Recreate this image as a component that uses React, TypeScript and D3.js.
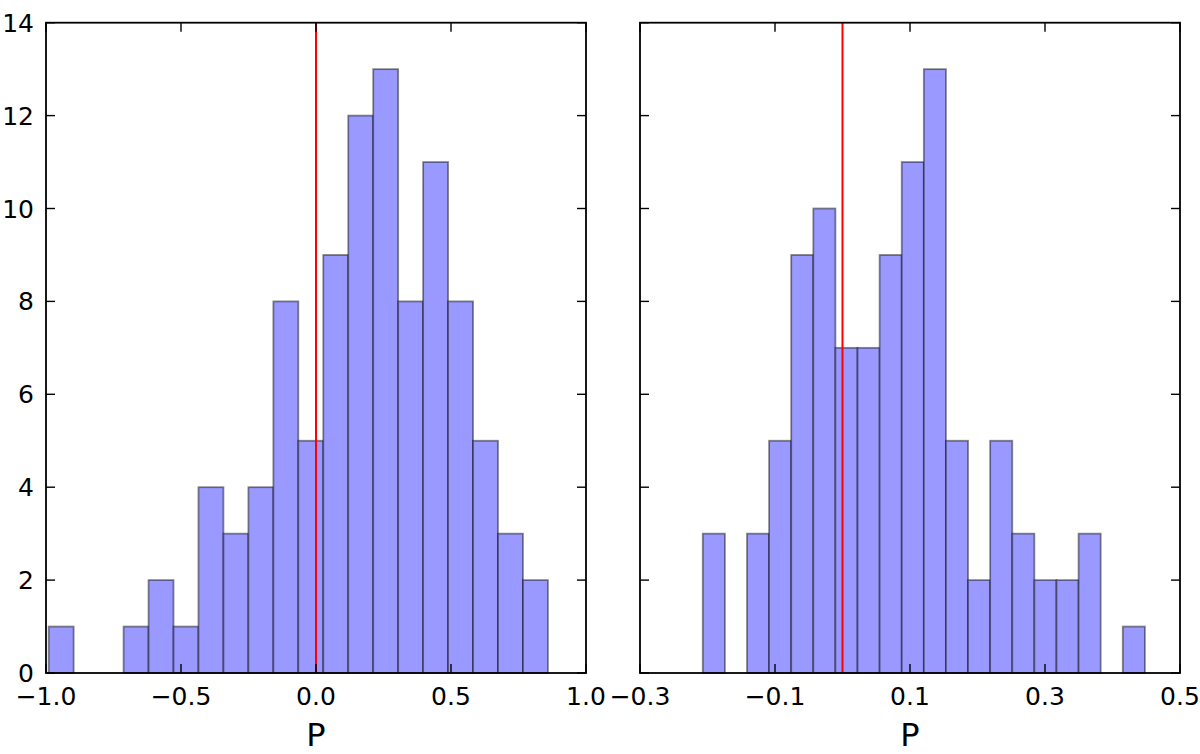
import * as d3 from "d3";
import { useEffect, useRef } from "react";

// histogram counts, 20 equal bins per panel
const leftCounts = [1, 0, 0, 1, 2, 1, 4, 3, 4, 8, 5, 9, 12, 13, 8, 11, 8, 5, 3, 2];
const leftBinRange: [number, number] = [-0.99, 0.859];
const leftXTicks = [-1.0, -0.5, 0.0, 0.5, 1.0];
const leftXDomain: [number, number] = [-1, 1];

const rightCounts = [3, 0, 3, 5, 9, 10, 7, 7, 9, 11, 13, 5, 2, 5, 3, 2, 2, 3, 0, 1];
const rightBinRange: [number, number] = [-0.207, 0.448];
const rightXTicks = [-0.3, -0.1, 0.1, 0.3, 0.5];
const rightXDomain: [number, number] = [-0.3, 0.5];

const yTicks = [0, 2, 4, 6, 8, 10, 12, 14];
const yDomain: [number, number] = [0, 14];
const refLine = 0; // red vertical marker
const xLabel = "P";

const W = 1200;
const H = 754;
const top = 22.7;
const bottom = 673;
const font = "'DejaVu Sans', sans-serif";

type Panel = {
  counts: number[];
  binRange: [number, number];
  xTicks: number[];
  xDomain: [number, number];
  x0: number;
  x1: number;
  yLabels: boolean;
};

const panels: Panel[] = [
  { counts: leftCounts, binRange: leftBinRange, xTicks: leftXTicks, xDomain: leftXDomain, x0: 46, x1: 586, yLabels: true },
  { counts: rightCounts, binRange: rightBinRange, xTicks: rightXTicks, xDomain: rightXDomain, x0: 640, x1: 1180, yLabels: false },
];

const fmt = (v: number) => d3.format(".1f")(v).replace("-", "\u2212");

export default function App() {
  const svgRef = useRef<SVGSVGElement>(null);

  useEffect(() => {
    document.body.style.margin = "0";
    if (!svgRef.current) return;
    const svg = d3.select(svgRef.current);
    svg.selectAll("*").remove();

    const y = d3.scaleLinear().domain(yDomain).range([bottom, top]);

    panels.forEach((p) => {
      const x = d3.scaleLinear().domain(p.xDomain).range([p.x0, p.x1]);
      const n = p.counts.length;
      const bw = (p.binRange[1] - p.binRange[0]) / n;
      const bins = p.counts.map((c, i) => ({
        lo: p.binRange[0] + i * bw,
        hi: p.binRange[0] + (i + 1) * bw,
        c,
      }));
      const g = svg.append("g");

      g.selectAll("rect.bar")
        .data(bins.filter((b) => b.c > 0))
        .enter()
        .append("rect")
        .attr("class", "bar")
        .attr("x", (b) => x(b.lo))
        .attr("y", (b) => y(b.c))
        .attr("width", (b) => x(b.hi) - x(b.lo))
        .attr("height", (b) => y(0) - y(b.c))
        .attr("fill", "#9999ff")
        .attr("stroke", "rgba(0,0,0,0.45)")
        .attr("stroke-width", 1.8);

      g.append("line")
        .attr("x1", x(refLine))
        .attr("x2", x(refLine))
        .attr("y1", top)
        .attr("y2", bottom)
        .attr("stroke", "#ff0000")
        .attr("stroke-width", 2);

      // inward ticks on all four sides
      const tl = 9;
      p.xTicks.forEach((t) => {
        g.append("line")
          .attr("x1", x(t)).attr("x2", x(t))
          .attr("y1", bottom).attr("y2", bottom - tl)
          .attr("stroke", "#000").attr("stroke-width", 1.4);
        g.append("line")
          .attr("x1", x(t)).attr("x2", x(t))
          .attr("y1", top).attr("y2", top + tl)
          .attr("stroke", "#000").attr("stroke-width", 1.4);
        g.append("text")
          .attr("x", x(t))
          .attr("y", bottom + 32)
          .attr("text-anchor", "middle")
          .attr("font-family", font)
          .attr("font-size", 25)
          .attr("fill", "#000")
          .text(fmt(t));
      });
      yTicks.forEach((t) => {
        g.append("line")
          .attr("x1", p.x0).attr("x2", p.x0 + tl)
          .attr("y1", y(t)).attr("y2", y(t))
          .attr("stroke", "#000").attr("stroke-width", 1.4);
        g.append("line")
          .attr("x1", p.x1).attr("x2", p.x1 - tl)
          .attr("y1", y(t)).attr("y2", y(t))
          .attr("stroke", "#000").attr("stroke-width", 1.4);
        if (p.yLabels) {
          g.append("text")
            .attr("x", p.x0 - 12)
            .attr("y", y(t))
            .attr("dy", "0.36em")
            .attr("text-anchor", "end")
            .attr("font-family", font)
            .attr("font-size", 25)
            .attr("fill", "#000")
            .text(t);
        }
      });

      g.append("rect")
        .attr("x", p.x0)
        .attr("y", top)
        .attr("width", p.x1 - p.x0)
        .attr("height", bottom - top)
        .attr("fill", "none")
        .attr("stroke", "#000")
        .attr("stroke-width", 1.8);

      g.append("text")
        .attr("x", (p.x0 + p.x1) / 2)
        .attr("y", 746)
        .attr("text-anchor", "middle")
        .attr("font-family", font)
        .attr("font-size", 32)
        .attr("fill", "#000")
        .text(xLabel);
    });
  }, []);

  return <svg ref={svgRef} width={W} height={H} viewBox={`0 0 ${W} ${H}`} style={{ display: "block", background: "#fff" }} />;
}
